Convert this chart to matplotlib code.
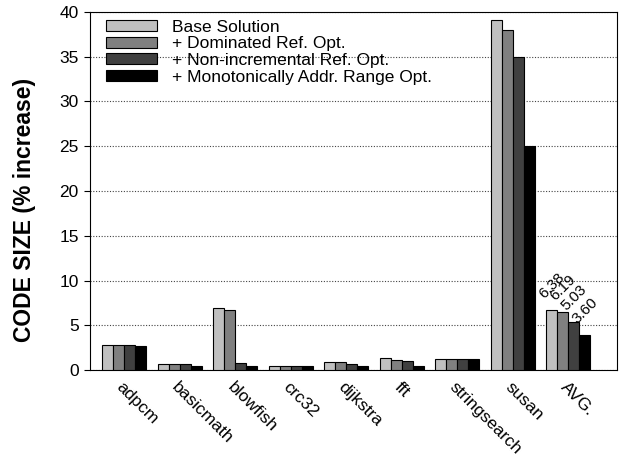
import matplotlib
matplotlib.use("Agg")
import matplotlib.pyplot as plt
import numpy as np

plt.rcParams['font.family'] = ['Liberation Sans', 'DejaVu Sans']

benchmarks = ["adpcm", "basicmath", "blowfish", "crc32", "dijkstra", "fft",
              "stringsearch", "susan", "AVG."]
series_names = ["Base Solution", "+ Dominated Ref. Opt.",
                "+ Non-incremental Ref. Opt.", "+ Monotonically Addr. Range Opt."]
base = [2.8, 0.7, 6.9, 0.4, 0.9, 1.3, 1.2, 39.1, 6.7]
dominated = [2.8, 0.7, 6.7, 0.4, 0.9, 1.1, 1.2, 38.0, 6.5]
nonincr = [2.8, 0.7, 0.8, 0.4, 0.7, 1.0, 1.2, 35.0, 5.4]
monotonic = [2.7, 0.5, 0.4, 0.4, 0.4, 0.5, 1.2, 25.0, 3.9]
avg_labels = ["6.38", "6.19", "5.03", "3.60"]

colors = ["#c0c0c0", "#808080", "#404040", "#000000"]

fig = plt.figure(figsize=(6.24, 4.58), dpi=100)
ax = fig.add_axes([0.144, 0.192, 0.845, 0.782])

x = np.arange(len(benchmarks))
w = 0.2
all_series = [base, dominated, nonincr, monotonic]
for i, vals in enumerate(all_series):
    ax.bar(x + (i - 1.5) * w, vals, w, color=colors[i], edgecolor="black",
           linewidth=0.8, label=series_names[i], zorder=3)

# labels above the AVG bars
for i, vals in enumerate(all_series):
    xi = x[-1] + (i - 1.5) * w - w / 2
    ax.text(xi, vals[-1] + 1.0, avg_labels[i], rotation=45, rotation_mode="anchor",
            ha="left", va="bottom", fontsize=11)

ax.set_ylim(0, 40)
ax.set_xlim(-0.62, 8.88)
ax.set_yticks(range(0, 41, 5))
ax.yaxis.grid(True, linestyle=(0, (1, 1.5)), color="#444444", linewidth=0.8, zorder=0)
ax.set_xticks(x)
ax.set_xticklabels(benchmarks, rotation=-45, ha="left", va="top",
                   rotation_mode="anchor", fontsize=12.5)
ax.tick_params(axis="y", direction="out", labelsize=12.5, length=4, pad=4)
ax.tick_params(axis="x", length=0, pad=7)
ax.set_ylabel("CODE SIZE (% increase)", fontsize=16.5, fontweight="bold")
ax.yaxis.set_label_coords(-0.102, 0.447)

ax.legend(loc="upper left", frameon=False, fontsize=12.5, handlelength=2.9,
          handleheight=0.6, labelspacing=0.1, borderaxespad=0.0,
          handletextpad=0.9, bbox_to_anchor=(0.018, 0.998))

fig.savefig("out.png", dpi=100)
